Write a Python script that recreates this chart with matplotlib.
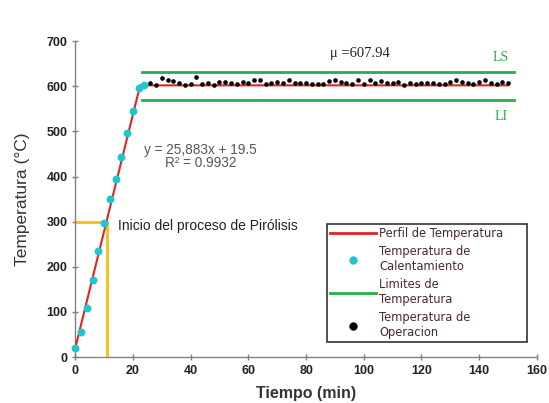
import numpy as np
import matplotlib
matplotlib.use("Agg")
import matplotlib.pyplot as plt
from matplotlib.lines import Line2D

# ---- data ----
heat_t = [0, 2, 4, 6, 8, 10, 12, 14, 16, 18, 20, 22, 24]
heat_T = [19, 55, 108, 170, 236, 298, 350, 394, 443, 496, 545, 596, 603]

op_t = list(range(26, 151, 2))
op_T = [608, 602, 619, 613, 611, 608, 602, 605, 621, 605, 608, 602, 610, 610,
        608, 605, 610, 608, 614, 614, 605, 607, 610, 607, 613, 608, 607, 607,
        606, 605, 605, 611, 614, 610, 608, 606, 613, 605, 614, 607, 611, 608,
        608, 610, 602, 608, 606, 607, 607, 607, 605, 605, 610, 614, 610, 607,
        606, 610, 613, 607, 605, 610, 607]

profile_t = [0, 22.5, 150]
profile_T = [19.5, 602, 602]

limit_t = [23, 152]
LS = 631
LI = 570

pyro_t = 11
pyro_T = 300

xticks = list(range(0, 161, 20))
yticks = list(range(0, 701, 100))

# ---- figure ----
fig = plt.figure(figsize=(5.49, 4.03), dpi=100)
ax = fig.add_axes([0.137, 0.114, 0.841, 0.784])

red = '#e02424'
cyan = '#1fc6cf'
green = '#22b04a'
yellow = '#f5c010'

ax.plot([0, pyro_t], [pyro_T, pyro_T], color=yellow, lw=2, zorder=2, clip_on=False)
ax.plot([pyro_t, pyro_t], [0, pyro_T], color=yellow, lw=2, zorder=2)

ax.plot(limit_t, [LS, LS], color=green, lw=2, zorder=2)
ax.plot(limit_t, [LI, LI], color=green, lw=2, zorder=2)

ax.plot(profile_t, profile_T, color=red, lw=1.5, zorder=3)
ax.scatter(heat_t, heat_T, s=32, color=cyan, zorder=4, linewidths=0, clip_on=False)
ax.scatter(op_t, op_T, s=11, color='black', zorder=4, linewidths=0)

ax.set_xlim(0, 160)
ax.set_ylim(0, 700)
ax.set_xticks(xticks)
ax.set_yticks(yticks)
for s in ['top', 'right']:
    ax.spines[s].set_visible(False)
for s in ['left', 'bottom']:
    ax.spines[s].set_color('#808080')
    ax.spines[s].set_linewidth(1.0)
ax.tick_params(direction='inout', length=4, color='#808080', width=1)
for lab in ax.get_xticklabels() + ax.get_yticklabels():
    lab.set_fontfamily('Liberation Sans')
    lab.set_fontweight('bold')
    lab.set_fontsize(9)
    lab.set_color('#222222')

ax.set_xlabel('Tiempo (min)', fontfamily='Liberation Sans', fontweight='bold',
              fontsize=11.5, color='#333333', labelpad=7)
ax.set_ylabel('Temperatura (°C)', fontfamily='Liberation Sans',
              fontsize=12.5, color='#333333', labelpad=12)

ax.text(14.9, 290, 'Inicio del proceso de Pirólisis', fontfamily='Liberation Sans',
        fontsize=10, color='#222222', va='center', ha='left')
ax.text(43.5, 459, 'y = 25,883x + 19.5', fontfamily='Liberation Sans',
        fontsize=9.8, color='#555555', ha='center', va='center')
ax.text(43.5, 430, 'R² = 0.9932', fontfamily='Liberation Sans',
        fontsize=9.8, color='#555555', ha='center', va='center')
ax.text(88.3, 672, 'μ =607.94', fontfamily='Liberation Serif',
        fontsize=10.5, color='#222222', ha='left', va='center')
ax.text(147.5, 663, 'LS', fontfamily='Liberation Serif',
        fontsize=10, color=green, ha='center', va='center')
ax.text(147.5, 532, 'LI', fontfamily='Liberation Serif',
        fontsize=10, color=green, ha='center', va='center')

handles = [
    Line2D([], [], color=red, lw=2),
    Line2D([], [], color=cyan, marker='o', ls='none', markersize=5),
    Line2D([], [], color=green, lw=2),
    Line2D([], [], color='black', marker='o', ls='none', markersize=5),
]
labels = ['Perfil de Temperatura', 'Temperatura de\nCalentamiento',
          'Limites de\nTemperatura', 'Temperatura de\nOperacion']
leg = ax.legend(handles, labels, loc='upper left',
                bbox_to_anchor=(0.545, 0.421, 0.433, 0.0), mode='expand',
                borderaxespad=0.0,
                frameon=True, fancybox=False,
                edgecolor='black', handlelength=4.0, handletextpad=0.3,
                borderpad=0.25, labelspacing=0.45,
                prop={'family': 'DejaVu Sans', 'size': 8.3})
leg.get_frame().set_linewidth(1.2)
for t in leg.get_texts():
    t.set_color('#4a2a2a')

fig.savefig('out.png', dpi=100)
